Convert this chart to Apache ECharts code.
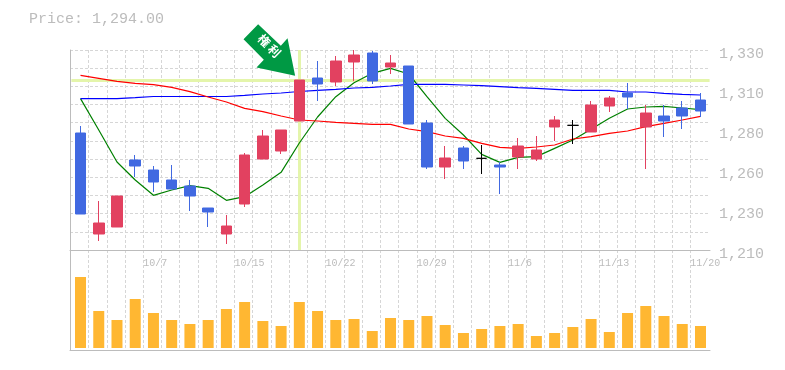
<!DOCTYPE html>
<html>
<head>
<meta charset="utf-8">
<style>html,body{margin:0;padding:0;background:#fff}#c{width:785px;height:370px}</style>
<script src="https://cdn.jsdelivr.net/npm/echarts@6/dist/echarts.min.js"></script>
</head>
<body>
<div id="c"></div>
<script>
const dates = ['10/1','10/2','10/3','10/4','10/7','10/8','10/9','10/10','10/11','10/15','10/16','10/17','10/18','10/21','10/22','10/23','10/24','10/25','10/28','10/29','10/30','10/31','11/1','11/5','11/6','11/7','11/8','11/11','11/12','11/13','11/14','11/15','11/18','11/19','11/20'];
const shownDates = ['10/7','10/15','10/22','10/29','11/6','11/13','11/20'];
const priceTickLabels = ['1,210','1,230','1,260','1,280','1,310','1,330'];
// open, close, low, high
const candles = [
[1280.2,1231.6,1231.6,1284.4],[1219.6,1226.2,1215.4,1239.4],[1223.8,1242.4,1223.8,1242.4],[1264,1260.4,1253.8,1267],
[1258,1250.8,1244.8,1260.4],[1252,1246.6,1246.6,1261],[1248.4,1242.4,1233.4,1252],[1235.2,1232.8,1223.8,1235.2],
[1219.6,1224.4,1213.6,1231],[1237.6,1267,1235.8,1268.2],[1264.6,1278.4,1264.6,1282],[1269.4,1282,1267.6,1282],
[1287.4,1312,1287.4,1312],[1313.2,1309.6,1299.4,1323.4],[1310.8,1323.4,1308.4,1326.4],[1322.8,1327,1311.4,1330],
[1328.2,1311.4,1309.6,1329.4],[1319.8,1322.2,1315.6,1327],[1320.4,1285.6,1285.6,1320.4],[1286.2,1259.8,1258.6,1288],
[1259.8,1265.2,1252.6,1272.4],[1271.2,1263.4,1258.6,1272.4],[1265,1265,1255.6,1273],[1261,1259.8,1243.6,1262.8],
[1265.8,1272.4,1258.6,1277.2],[1264.6,1270,1263.4,1278.4],[1283.8,1288,1275.4,1290.4],[1284.8,1284.8,1273.6,1288],
[1280.8,1297,1280.8,1299.4],[1296.4,1301.2,1292.8,1302.4],[1304.2,1301.8,1294.6,1310.2],[1283.8,1292.2,1258.6,1297],
[1290.4,1287.4,1277.8,1297],[1295.2,1290.4,1282.6,1299.4],[1300,1293.4,1289.8,1304.2]];
const maGreen = [1300.8,1282,1262.8,1252,1242.8,1246,1248.6,1247,1239.8,1242,1249,1256.6,1274.2,1289.8,1302,1310.4,1316,1319,1315.6,1302,1289,1279,1267.4,1262.6,1265.6,1266,1271,1276,1282.4,1289,1294.6,1295.8,1296.2,1295.2,1294.2];
const maRed = [1314.8,1313,1311.2,1310,1309.2,1307.6,1305,1301.8,1298.8,1295,1293,1290.4,1288,1287.4,1286.6,1286,1285.4,1285.4,1282.6,1281,1278.4,1277,1274,1271.6,1271,1271.8,1273,1276.6,1278,1280,1281.4,1284,1286,1288,1290.2];
const maBlue = [1300.8,1300.8,1300.8,1301.4,1302.1,1302.1,1302.1,1302.1,1302.1,1302.8,1303.6,1304.2,1305.1,1305.8,1306.4,1307.2,1307.6,1308.4,1309.4,1309.4,1309.4,1309,1308.6,1308,1307.4,1307,1306.4,1305.8,1305.8,1305.8,1304.8,1304.8,1304,1303.4,1303];
const volumes = [71,37,28,49,35,28,24,28,39,46,27,22,46,37,28,29,17,30,28,32,23,15,19,22,24,12,15,21,29,16,35,42,32,24,22];
const markedIndex = 12, markedPrice = 1312;
const priceText = 'Price: 1,294.00', markText = '権 利';

const GRAY = '#bcbcbc', DASH = '#d6d6d6', MONO = '"Liberation Mono","DejaVu Sans Mono",monospace';
const off = {show:false};
const dashed = {show:true,lineStyle:{color:DASH,width:1,type:[3,2]}};
const solid = {show:true,lineStyle:{color:GRAY,width:1}};
const lineSeries = (name,data,color)=>({type:'line',name,data,xAxisIndex:0,yAxisIndex:0,showSymbol:false,symbol:'none',
  lineStyle:{color,width:1.2},itemStyle:{color},z:3,silent:true});

const option = {
  animation:false,
  backgroundColor:'#fff',
  title:{text:priceText,left:24,top:7,textStyle:{fontFamily:MONO,fontSize:15,fontWeight:'normal',color:GRAY}},
  grid:[
    {left:71.4,width:638.2,top:50,height:200},
    {left:71.4,width:638.2,top:250,height:98},
    {left:70.3,width:620,top:50,height:200},
    {left:70.3,width:620,top:250,height:100},
    {left:70,width:640,top:50,height:200},
    {left:70,width:640,top:250,height:100},
    {left:70,width:640,top:54,height:200}
  ],
  xAxis:[
    {type:'category',gridIndex:0,data:dates,show:false},
    {type:'category',gridIndex:1,data:dates,show:false},
    {type:'category',gridIndex:2,data:dates,boundaryGap:false,axisLine:off,axisTick:off,splitLine:{...dashed,interval:0},
      axisLabel:{show:true,interval:0,align:'left',margin:8,fontFamily:MONO,fontSize:10,color:GRAY,showMaxLabel:true,
        formatter:v=>shownDates.includes(v)?v:''}},
    {type:'category',gridIndex:3,data:dates,boundaryGap:false,axisLine:off,axisTick:off,axisLabel:off,splitLine:{...dashed,interval:0}},
    {type:'value',gridIndex:4,min:0,max:1,axisLine:solid,axisTick:off,axisLabel:off,splitLine:off},
    {type:'value',gridIndex:5,min:0,max:1,axisLine:solid,axisTick:off,axisLabel:off,splitLine:off},
    {type:'value',gridIndex:6,min:0,max:1,show:false,splitLine:off}
  ],
  yAxis:[
    {type:'value',gridIndex:0,min:1210,max:1330,show:false,splitLine:off},
    {type:'value',gridIndex:1,min:0,max:98,show:false,splitLine:off},
    {type:'value',gridIndex:2,min:0,max:1,show:false,splitLine:off},
    {type:'value',gridIndex:3,min:0,max:1,show:false,splitLine:off},
    {type:'value',gridIndex:4,position:'right',min:0,max:1,axisLine:solid,axisTick:off,axisLabel:off,splitLine:off},
    {type:'value',gridIndex:4,position:'left',min:0,max:11,interval:1,axisLine:off,axisTick:off,axisLabel:off,splitLine:dashed},
    {type:'value',gridIndex:5,position:'right',min:0,max:1,axisLine:solid,axisTick:off,axisLabel:off,splitLine:off},
    {type:'value',gridIndex:6,position:'right',min:0,max:5,interval:1,axisLine:off,axisTick:off,splitLine:off,
      axisLabel:{show:true,margin:9,fontFamily:MONO,fontSize:15,color:GRAY,formatter:v=>priceTickLabels[v]}}
  ],
  series:[
    lineSeries('MA short',maGreen,'#008000'),
    lineSeries('MA long',maBlue,'#0000ff'),
    lineSeries('MA mid',maRed,'#ff0000'),
    {type:'candlestick',name:'Price',data:candles,xAxisIndex:0,yAxisIndex:0,barWidth:11,z:4,silent:true,
      itemStyle:{color:'#e24160',color0:'#4169e1',borderColor:'#e24160',borderColor0:'#4169e1',borderColorDoji:'#000',borderWidth:1},
      markLine:{silent:true,z:1,symbol:'none',label:off,animation:false,
        lineStyle:{color:'#e4f5ab',width:3,type:'solid'},
        data:[{yAxis:markedPrice},{xAxis:markedIndex}]},
      markPoint:{silent:true,z:8,animation:false,
        data:[{coord:[markedIndex,markedPrice],
          symbol:'path://M14.6 0L37.3 21.7L44 14L51.6 51.7L13 43.4L20.3 35.7L0 15Z',
          symbolSize:[51.6,51.7],symbolOffset:[-30,-30],symbolRotate:0,
          itemStyle:{color:'#009944'},
          label:{show:true,position:'inside',offset:[-3,-3],rotate:-45,formatter:markText,color:'#fff',
            fontSize:12,fontWeight:'bold',fontFamily:'"Noto Sans CJK JP"'}}]}},
    {type:'bar',name:'Volume',data:volumes,xAxisIndex:1,yAxisIndex:1,barWidth:11,itemStyle:{color:'#ffb732'},silent:true}
  ]
};
echarts.init(document.getElementById('c'),null,{renderer:'canvas'}).setOption(option);
</script>
</body>
</html>
